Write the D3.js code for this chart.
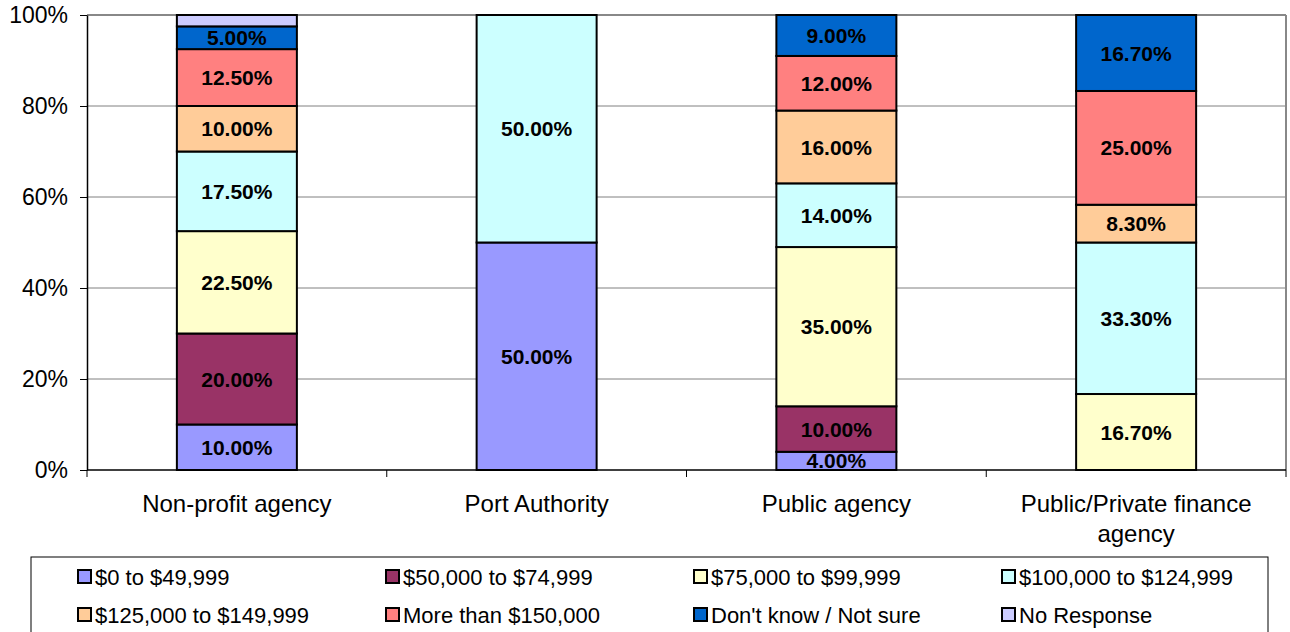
<!DOCTYPE html>
<html><head><meta charset="utf-8">
<script src="https://cdn.jsdelivr.net/npm/d3@7"></script>
<style>body{margin:0;background:#fff}svg{display:block;font-family:Arial,"Liberation Sans",sans-serif}</style>
</head><body><svg id="c" width="1290" height="632"></svg>
<script>
const categories = ["Non-profit agency","Port Authority","Public agency","Public/Private finance agency"];
const seriesNames = ["$0 to $49,999","$50,000 to $74,999","$75,000 to $99,999","$100,000 to $124,999","$125,000 to $149,999","More than $150,000","Don't know / Not sure","No Response"];
const s0 = [10.0, 50.0, 4.0, 0];
const s1 = [20.0, 0, 10.0, 0];
const s2 = [22.5, 0, 35.0, 16.7];
const s3 = [17.5, 50.0, 14.0, 33.3];
const s4 = [10.0, 0, 16.0, 8.3];
const s5 = [12.5, 0, 12.0, 25.0];
const s6 = [5.0, 0, 9.0, 16.7];
const s7 = [2.5, 0, 0, 0];
const colors = ["#9999FF","#993366","#FFFFCC","#CCFFFF","#FFCC99","#FF8080","#0066CC","#CCCCFF"];
const yTicks = [0,20,40,60,80,100];

const seriesVals = [s0,s1,s2,s3,s4,s5,s6,s7];
const svg = d3.select("#c");
const L=87, R=1286, T=15, B=470;
const x = d3.scaleBand().domain(categories).range([L,R]).paddingInner(0).paddingOuter(0);
const y = d3.scaleLinear().domain([0,100]).range([B,T]);
const bw = 120;

// gridlines
svg.append("g").selectAll("line").data(yTicks.filter(d=>d>0)).join("line")
  .attr("x1",L).attr("x2",R).attr("y1",d=>y(d)).attr("y2",d=>y(d))
  .attr("stroke",d=>d===100?"#888":"#808080").attr("stroke-width",d=>d===100?2:1);
svg.append("line").attr("x1",R).attr("x2",R).attr("y1",T).attr("y2",B).attr("stroke","#888").attr("stroke-width",2);

// stacked data
const rows = categories.map((c,i)=>{const o={cat:c}; seriesNames.forEach((s,j)=>o[s]=seriesVals[j][i]); return o;});
const stack = d3.stack().keys(seriesNames)(rows);
const g = svg.append("g");
stack.forEach((layer,j)=>{
  layer.forEach((d,i)=>{
    const v = d[1]-d[0];
    if (v<=0) return;
    const cx = x(categories[i])+x.bandwidth()/2;
    g.append("rect").attr("x",cx-bw/2).attr("width",bw)
      .attr("y",y(d[1])).attr("height",y(d[0])-y(d[1]))
      .attr("fill",colors[j]).attr("stroke","#000").attr("stroke-width",2);
  });
});
stack.forEach((layer,j)=>{
  layer.forEach((d,i)=>{
    const v = d[1]-d[0];
    if (v<3) return;
    const cx = x(categories[i])+x.bandwidth()/2;
    g.append("text").attr("x",cx).attr("y",(y(d[0])+y(d[1]))/2).attr("dy","0.36em")
      .attr("text-anchor","middle").attr("font-weight","bold").attr("font-size","21px")
      .text(seriesVals[j][i].toFixed(2)+"%");
  });
});

// y axis
const ya = svg.append("g").attr("transform",`translate(${L},0)`)
  .call(d3.axisLeft(y).tickValues(yTicks).tickFormat(d=>d+"%").tickSize(7).tickSizeOuter(0));
ya.select(".domain").attr("stroke","#000").attr("stroke-width",1.5);
ya.selectAll(".tick line").attr("stroke","#000");
ya.selectAll("text").attr("font-size","23px").attr("fill","#000").attr("x",-19).attr("font-family","Arial,'Liberation Sans',sans-serif");

// x axis
svg.append("line").attr("x1",L).attr("x2",R).attr("y1",B).attr("y2",B).attr("stroke","#000").attr("stroke-width",1.5);
const xt = [L, ...categories.map(c=>x(c)+x.bandwidth())];
svg.append("g").selectAll("line").data(xt).join("line")
  .attr("x1",d=>d).attr("x2",d=>d).attr("y1",B).attr("y2",B+7).attr("stroke","#000");
categories.forEach(c=>{
  const cx = x(c)+x.bandwidth()/2;
  const lines = c==="Public/Private finance agency" ? ["Public/Private finance","agency"] : [c];
  lines.forEach((ln,k)=>{
    svg.append("text").attr("x",cx).attr("y",512+k*30).attr("text-anchor","middle")
      .attr("font-size","24px").text(ln);
  });
});

// legend
svg.append("rect").attr("x",31).attr("y",557).attr("width",1237).attr("height",90)
  .attr("fill","#fff").attr("stroke","#000").attr("stroke-width",1);
const colX = [78, 386, 694, 1002];
seriesNames.forEach((s,j)=>{
  const col = j%4, row = Math.floor(j/4);
  const lx = colX[col], ly = 577 + row*38;
  svg.append("rect").attr("x",lx).attr("y",ly-7).attr("width",13).attr("height",13)
    .attr("fill",colors[j]).attr("stroke","#000").attr("stroke-width",2);
  svg.append("text").attr("x",lx+17).attr("y",ly).attr("dy","0.36em").attr("font-size","22px").text(s);
});
</script></body></html>
